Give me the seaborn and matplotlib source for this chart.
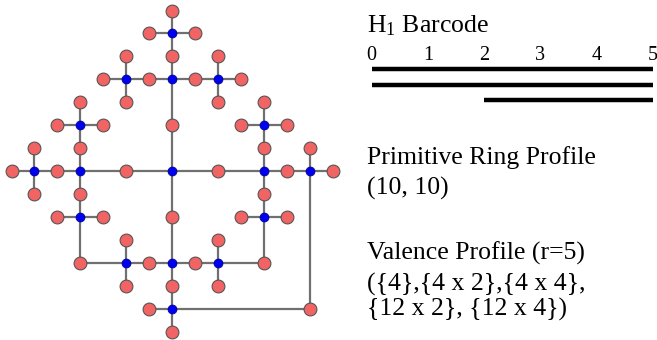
import matplotlib
matplotlib.use("Agg")
import matplotlib.pyplot as plt
import seaborn as sns
import pandas as pd

sns.set_theme(style="white")
plt.rcParams["font.family"] = ["Liberation Serif", "DejaVu Serif"]
plt.rcParams["mathtext.fontset"] = "custom"
plt.rcParams["mathtext.rm"] = "Liberation Serif"
plt.rcParams["mathtext.it"] = "Liberation Serif:italic"

# ---------------- data ----------------
# graph nodes on a grid (column, row); row grows downward
blue_cols = [7, 5, 7, 9, 3, 11, 1, 3, 7, 11, 13, 3, 11, 5, 7, 9, 7]
blue_rows = [1, 3, 3, 3, 5, 5, 7, 7, 7, 7, 7, 9, 9, 11, 11, 11, 13]

red_cols = [7, 6, 8, 7, 5, 9, 4, 6, 8, 10, 5, 9, 3, 11, 2, 4, 7, 10, 12,
            1, 3, 11, 13, 0, 2, 5, 9, 12, 14, 1, 3, 11, 2, 4, 7, 10, 12,
            5, 9, 3, 6, 8, 11, 5, 7, 9, 6, 13, 7]
red_rows = [0, 1, 1, 2, 2, 2, 3, 3, 3, 3, 4, 4, 4, 4, 5, 5, 5, 5, 5,
            6, 6, 6, 6, 7, 7, 7, 7, 7, 7, 8, 8, 8, 9, 9, 9, 9, 9,
            10, 10, 11, 11, 11, 11, 12, 12, 12, 13, 13, 14]

# straight bonds: (col_start, row_start, col_end, row_end)
edge_c1 = [7, 6, 4, 5, 9, 3, 2, 11, 10, 0, 1, 13, 2, 10, 3, 5, 9, 6]
edge_r1 = [0, 1, 3, 2, 2, 4, 5, 4, 5, 7, 6, 6, 9, 9, 11, 10, 10, 13]
edge_c2 = [7, 8, 10, 5, 9, 3, 4, 11, 12, 14, 1, 13, 4, 12, 11, 5, 9, 13]
edge_r2 = [14, 1, 3, 4, 4, 11, 5, 11, 5, 7, 8, 13, 9, 9, 11, 12, 12, 13]

# H1 barcode intervals
bar_start = [0, 0, 2]
bar_end = [5, 5, 5]
bar_ticks = [0, 1, 2, 3, 4, 5]

title_barcode = r"H$_\mathrm{1}$ Barcode"
ring_title = "Primitive Ring Profile"
ring_value = "(10, 10)"
valence_title = "Valence Profile (r=5)"
valence_lines = ["({4},{4 x 2},{4 x 4},", "{12 x 2}, {12 x 4})"]

# ---------------- figure ----------------
W, H = 657, 340
fig = plt.figure(figsize=(W / 100, H / 100), dpi=100)
fig.patch.set_facecolor("white")

# graph axes spanning whole figure, mapped so grid fits pixel positions
ax = fig.add_axes([0, 0, 1, 1])
unit = 22.93
x0px, y0px = 11.5, 10.5

for c1, r1, c2, r2 in zip(edge_c1, edge_r1, edge_c2, edge_r2):
    ax.plot([c1, c2], [r1, r2], color="#707070", lw=1.6, zorder=1,
            solid_capstyle="butt")

nodes = pd.DataFrame({
    "col": red_cols + blue_cols,
    "row": red_rows + blue_rows,
    "kind": ["red"] * len(red_cols) + ["blue"] * len(blue_cols),
})
sns.scatterplot(data=nodes[nodes.kind == "red"], x="col", y="row", ax=ax,
                color="#F26464", s=85, edgecolor="#555555", linewidth=0.8,
                zorder=3, legend=False)
sns.scatterplot(data=nodes[nodes.kind == "blue"], x="col", y="row", ax=ax,
                color="#0000F0", s=42, edgecolor="#000080", linewidth=0.5,
                zorder=4, legend=False)
ax.set_xlim(-x0px / unit, (W - x0px) / unit)
ax.set_ylim((H - y0px) / unit, -y0px / unit)
ax.axis("off")

# barcode axes
bx_left, bx_right = 371.5, 653.0
by_top, by_bot = 62.0, 107.0
bax = fig.add_axes([bx_left / W, 1 - by_bot / H, (bx_right - bx_left) / W,
                    (by_bot - by_top) / H])
bar_df = pd.DataFrame({"start": bar_start, "end": bar_end,
                       "idx": list(range(len(bar_start)))})
bax.hlines(y=bar_df["idx"], xmin=bar_df["start"], xmax=bar_df["end"],
           color="black", lw=3.2)
bax.set_xlim(0, 5)
bax.set_ylim(2.45, -0.45)
bax.xaxis.tick_top()
bax.set_xticks(bar_ticks)
bax.set_xticklabels([str(t) for t in bar_ticks], fontsize=14.5, color="black")
bax.tick_params(axis="x", length=0, pad=-2)
bax.set_yticks([])
for s in bax.spines.values():
    s.set_visible(False)
bax.patch.set_alpha(0)

# text blocks
fs = 18.5
def put(text, xpx, base_px, size=fs):
    fig.text(xpx / W, 1 - base_px / H, text, fontsize=size, ha="left",
             va="baseline", color="black")

put(title_barcode, 367, 32)
put(ring_title, 367, 163.5)
put(ring_value, 367, 195)
put(valence_title, 367, 259.5)
put(valence_lines[0], 367, 290.5)
put(valence_lines[1], 367, 315.5)

fig.savefig("out.png", dpi=100, facecolor="white")
